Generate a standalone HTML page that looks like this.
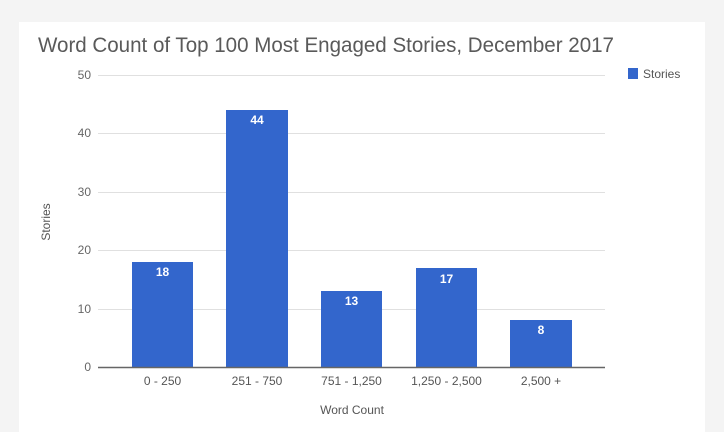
<!DOCTYPE html>
<html><head><style>
html,body{margin:0;padding:0;background:#f4f4f4;}
body{width:724px;height:432px;position:relative;overflow:hidden;font-family:"Liberation Sans",sans-serif;}
</style></head><body>
<svg width="724" height="432" style="position:absolute;left:0;top:0">
<rect x="19" y="22" width="686" height="410" fill="#fff"/>
<text x="38" y="52" font-size="21" fill="#5a5a5a" textLength="576" lengthAdjust="spacingAndGlyphs">Word Count of Top 100 Most Engaged Stories, December 2017</text>
<g stroke="#e0e0e0" stroke-width="1">
<line x1="98" x2="605" y1="75.5" y2="75.5"/>
<line x1="98" x2="605" y1="133.5" y2="133.5"/>
<line x1="98" x2="605" y1="192.5" y2="192.5"/>
<line x1="98" x2="605" y1="250.5" y2="250.5"/>
<line x1="98" x2="605" y1="309.5" y2="309.5"/>
</g>
<g font-size="12" fill="#666" text-anchor="end">
<text x="91" y="79">50</text><text x="91" y="137">40</text><text x="91" y="196">30</text>
<text x="91" y="254">20</text><text x="91" y="313">10</text><text x="91" y="371">0</text>
</g>
<g fill="#3366cc">
<rect x="132" y="262" width="61" height="105"/>
<rect x="226" y="110" width="62" height="257"/>
<rect x="321" y="291" width="61" height="76"/>
<rect x="416" y="268" width="61" height="99"/>
<rect x="510" y="320" width="62" height="47"/>
</g>
<line x1="98" x2="605" y1="367.5" y2="367.5" stroke="#666" stroke-width="1.5"/>
<g font-size="12" fill="#fff" text-anchor="middle" font-weight="bold">
<text x="162.5" y="276">18</text><text x="257" y="124">44</text><text x="351.5" y="305">13</text>
<text x="446.5" y="283">17</text><text x="541" y="334">8</text>
</g>
<g font-size="12" fill="#555" text-anchor="middle">
<text x="162.5" y="385">0 - 250</text><text x="257" y="385">251 - 750</text><text x="351.5" y="385">751 - 1,250</text>
<text x="446.5" y="385">1,250 - 2,500</text><text x="541" y="385">2,500 +</text>
<text x="352" y="414">Word Count</text>
<text transform="translate(50,222) rotate(-90)">Stories</text>
</g>
<rect x="628" y="68" width="10" height="11" fill="#3366cc"/>
<text x="643" y="78" font-size="12" fill="#555">Stories</text>
</svg>
</body></html>
